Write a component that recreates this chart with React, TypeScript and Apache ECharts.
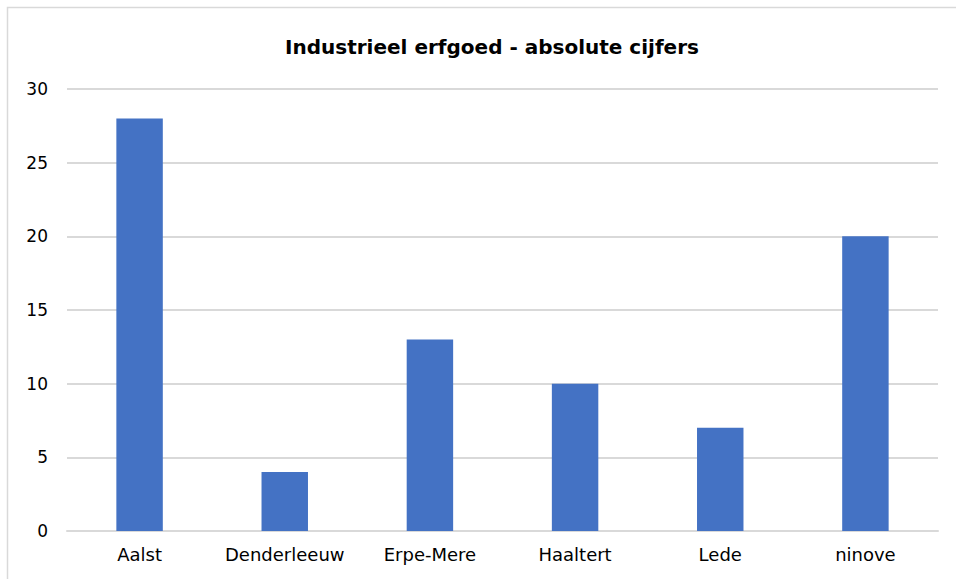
import React, { useEffect, useRef } from "react";
import * as echarts from "echarts";

const categories = ["Aalst", "Denderleeuw", "Erpe-Mere", "Haaltert", "Lede", "ninove"];
const values = [28, 4, 13, 10, 7, 20];
const titleText = "Industrieel erfgoed - absolute cijfers";
const FONT = "'DejaVu Sans', 'Noto Sans', sans-serif";

export default function App() {
  const ref = useRef<HTMLDivElement>(null);
  useEffect(() => {
    document.body.style.margin = "0";
    const chart = echarts.init(ref.current!, undefined, { renderer: "svg" });
    chart.setOption({
      animation: false,
      backgroundColor: "#ffffff",
      graphic: [
        {
          type: "rect",
          shape: { x: 7.5, y: 7.5, width: 1000, height: 1000 },
          style: { fill: "none", stroke: "#d9d9d9", lineWidth: 1.5 },
          silent: true,
        },
      ],
      title: {
        text: titleText,
        left: 487,
        top: 32,
        textAlign: "center",
        textStyle: { fontFamily: FONT, fontSize: 20, fontWeight: "bold", color: "#000000" },
      },
      grid: { left: 67, right: 18, top: 89, bottom: 48, containLabel: false },
      xAxis: {
        type: "category",
        data: categories,
        axisLine: { lineStyle: { color: "#d9d9d9", width: 2 } },
        axisTick: { show: false },
        axisLabel: {
          interval: 0,
          hideOverlap: false,
          fontFamily: FONT,
          fontSize: 18,
          color: "#000000",
          margin: 14,
        },
      },
      yAxis: {
        type: "value",
        min: 0,
        max: 30,
        interval: 5,
        axisLine: { show: false },
        axisTick: { show: false },
        splitLine: { lineStyle: { color: "#d9d9d9", width: 2 } },
        axisLabel: { fontFamily: FONT, fontSize: 17, color: "#000000", margin: 19 },
      },
      series: [
        {
          type: "bar",
          data: values,
          barWidth: "32%",
          itemStyle: { color: "#4472C4" },
        },
      ],
    });
    return () => chart.dispose();
  }, []);
  return <div ref={ref} style={{ width: 956, height: 579 }} />;
}
